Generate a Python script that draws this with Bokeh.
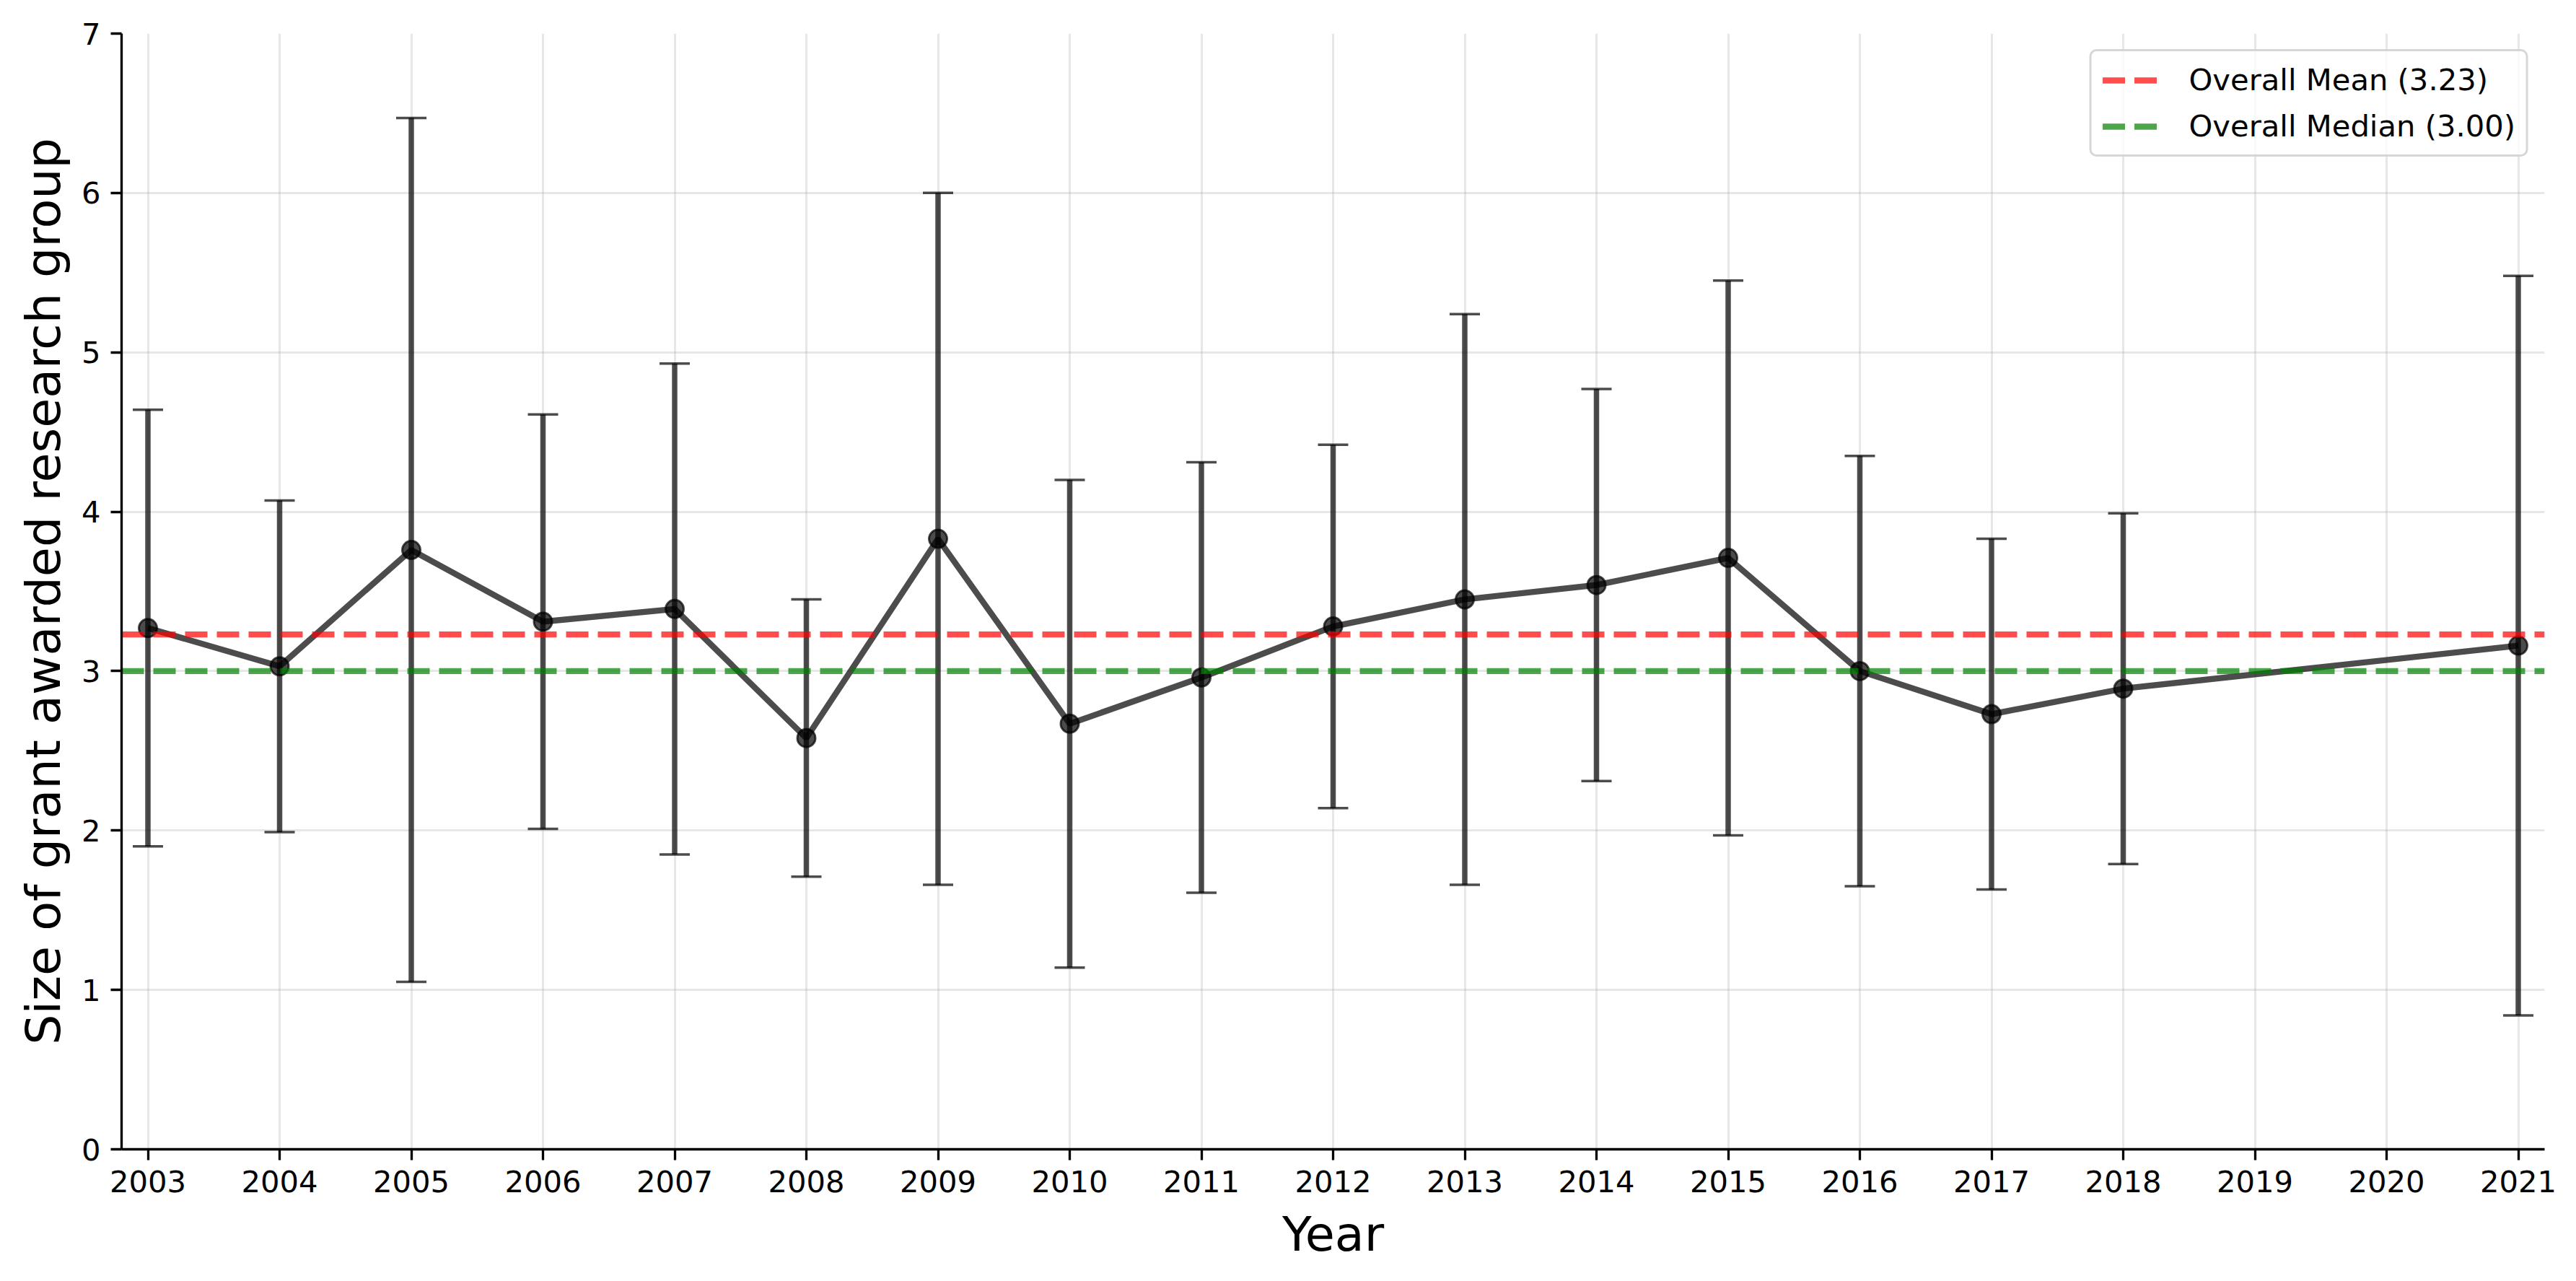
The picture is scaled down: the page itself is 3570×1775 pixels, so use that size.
from bokeh.plotting import figure
from bokeh.models import ColumnDataSource, Whisker, TeeHead, FixedTicker, Range1d
from bokeh.embed import file_html
from bokeh.resources import INLINE

# ---- data ----
years = [2003, 2004, 2005, 2006, 2007, 2008, 2009, 2010, 2011, 2012,
         2013, 2014, 2015, 2016, 2017, 2018, 2021]
mean_size = [3.27, 3.03, 3.76, 3.31, 3.39, 2.58, 3.83, 2.67, 2.96, 3.28,
             3.45, 3.54, 3.71, 3.00, 2.73, 2.89, 3.16]
std_size = [1.37, 1.04, 2.71, 1.30, 1.54, 0.87, 2.17, 1.53, 1.35, 1.14,
            1.79, 1.23, 1.74, 1.35, 1.10, 1.10, 2.32]
overall_mean = 3.23
overall_median = 3.00
x_ticks = list(range(2003, 2022))
y_ticks = [0, 1, 2, 3, 4, 5, 6, 7]
x_lo, x_hi = 2002.8, 2021.2
y_lo, y_hi = 0, 7

FONT = "DejaVu Sans"

src = ColumnDataSource(dict(
    year=years,
    mean=mean_size,
    upper=[m + s for m, s in zip(mean_size, std_size)],
    lower=[m - s for m, s in zip(mean_size, std_size)],
))

p = figure(width=3554, height=1767, output_backend="svg", toolbar_location=None,
           x_range=Range1d(x_lo, x_hi), y_range=Range1d(y_lo, y_hi),
           min_border_left=168, min_border_right=28,
           min_border_top=46, min_border_bottom=175)
p.background_fill_color = "white"
p.border_fill_color = "white"
p.outline_line_color = None

# error bars
whisk = Whisker(base="year", upper="upper", lower="lower", source=src,
                dimension="height", line_color="black", line_alpha=0.7,
                line_width=7.5,
                upper_head=TeeHead(size=42, line_color="black", line_alpha=0.7, line_width=3.5),
                lower_head=TeeHead(size=42, line_color="black", line_alpha=0.7, line_width=3.5))
p.add_layout(whisk)

# mean line + markers
p.line("year", "mean", source=src, line_color="black", line_alpha=0.7, line_width=8.3)
p.scatter("year", "mean", source=src, marker="circle", size=25,
          fill_color="black", fill_alpha=0.7, line_color="black", line_alpha=0.7,
          line_width=3)

# overall mean / median reference lines
p.line([x_lo, x_hi], [overall_mean, overall_mean], line_color="red", line_alpha=0.7,
       line_width=8.3, line_dash="31 13",
       legend_label=f"Overall Mean ({overall_mean:.2f})")
p.line([x_lo, x_hi], [overall_median, overall_median], line_color="green", line_alpha=0.7,
       line_width=8.3, line_dash="31 13",
       legend_label=f"Overall Median ({overall_median:.2f})")

# axes
p.xaxis.ticker = FixedTicker(ticks=x_ticks)
p.xaxis.major_label_overrides = {t: str(t) for t in x_ticks}
p.yaxis.ticker = FixedTicker(ticks=y_ticks)
p.yaxis.major_label_overrides = {t: str(t) for t in y_ticks}
p.xaxis.axis_label = "Year"
p.yaxis.axis_label = "Size of grant awarded research group"
for ax in (p.xaxis[0], p.yaxis[0]):
    ax.axis_line_color = "black"
    ax.axis_line_width = 3.3
    ax.major_tick_line_color = "black"
    ax.major_tick_line_width = 3.3
    ax.major_tick_out = 15
    ax.major_tick_in = 0
    ax.minor_tick_line_color = None
    ax.major_label_standoff = 14
    ax.major_label_text_font = FONT
    ax.major_label_text_font_size = "41.7px"
    ax.major_label_text_color = "black"
    ax.axis_label_text_font = FONT
    ax.axis_label_text_font_size = "66.7px"
    ax.axis_label_text_font_style = "normal"
    ax.axis_label_text_color = "black"
p.xaxis.axis_label_standoff = 16
p.yaxis.axis_label_standoff = 11

# grid
for g in (p.xgrid[0], p.ygrid[0]):
    g.grid_line_color = "#b0b0b0"
    g.grid_line_alpha = 0.3
    g.grid_line_width = 3
p.xgrid.ticker = FixedTicker(ticks=x_ticks)
p.ygrid.ticker = FixedTicker(ticks=y_ticks)

# legend
lg = p.legend[0]
lg.location = "top_right"
lg.margin = 22
lg.padding = 15
lg.spacing = 15
lg.label_standoff = 44
lg.glyph_width = 76
lg.glyph_height = 46
lg.label_height = 46
lg.label_text_font = FONT
lg.label_text_font_size = "41.7px"
lg.label_text_color = "black"
lg.border_line_color = "#cccccc"
lg.border_line_alpha = 0.8
lg.border_line_width = 3
lg.background_fill_color = "white"
lg.background_fill_alpha = 0.8
if "border_radius" in lg.properties():
    lg.border_radius = 10

open("out.html", "w").write(file_html(p, INLINE))
